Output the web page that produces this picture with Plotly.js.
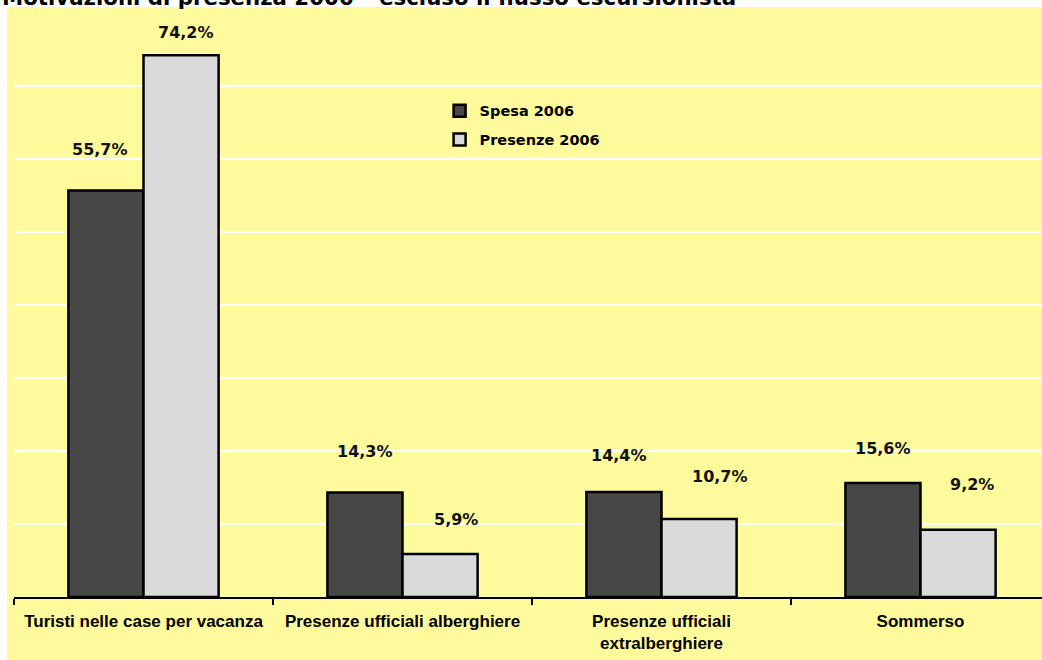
<!DOCTYPE html>
<html>
<head>
<meta charset="utf-8">
<script src="https://cdn.plot.ly/plotly-3.0.1.min.js"></script>
<style>
  html, body { margin: 0; padding: 0; background: #ffffff; overflow: hidden; }
  #chart { width: 1042px; height: 660px; }
</style>
</head>
<body>
<div id="chart"></div>
<script>
// ---- data ----
var categories = ['Turisti nelle case per vacanza', 'Presenze ufficiali alberghiere', 'Presenze ufficiali<br>extralberghiere', 'Sommerso'];
var spesa2006 = [55.7, 14.3, 14.4, 15.6];
var presenze2006 = [74.2, 5.9, 10.7, 9.2];
var seriesNames = ['Spesa 2006', 'Presenze 2006'];
var chartTitle = 'Motivazioni di presenza 2006 – escluso il flusso escursionista';

// ---- styles (label placement offsets, pixels) ----
var spesaLabelDx = [-6, 0, -5, 0];
var spesaLabelDy = [41, 41, 36, 35];
var presLabelDx = [5, 16, 21, 14];
var presLabelDy = [23, 34, 42, 45];

var bargap = 0.42;
var half = (1 - bargap) / 4; // centre offset of each bar within the group

function fmt(v) { return v.toFixed(1).replace('.', ',') + '%'; }

var labelFont = { family: 'DejaVu Sans', size: 16, color: '#111111', weight: 'bold' };

var plotW = 1042 - 14;
var plotH = 660 - 13 - 63;
var catPx = 259;

var annotations = [];
for (var i = 0; i < categories.length; i++) {
  annotations.push({
    x: i - half, y: spesa2006[i], xref: 'x', yref: 'y',
    text: fmt(spesa2006[i]), showarrow: false,
    xanchor: 'center', yanchor: 'middle',
    xshift: spesaLabelDx[i], yshift: spesaLabelDy[i], font: labelFont
  });
  annotations.push({
    x: i + half, y: presenze2006[i], xref: 'x', yref: 'y',
    text: fmt(presenze2006[i]), showarrow: false,
    xanchor: 'center', yanchor: 'middle',
    xshift: presLabelDx[i], yshift: presLabelDy[i], font: labelFont
  });
}
// title (partly cut at the top edge, as in the source)
annotations.push({
  text: chartTitle, showarrow: false,
  xref: 'paper', yref: 'paper',
  x: -14 / plotW, y: 1 + 13 / plotH,
  xanchor: 'left', yanchor: 'middle', yshift: 2.5,
  font: { family: 'DejaVu Sans', size: 21.3, color: '#000000', weight: 'bold' }
});

var traces = [
  {
    type: 'bar', name: seriesNames[0], x: categories, y: spesa2006,
    marker: { color: '#474747', line: { color: '#000000', width: 2.5 } },
    legendgroup: 'a', hoverinfo: 'none'
  },
  {
    type: 'bar', name: seriesNames[1], x: categories, y: presenze2006,
    marker: { color: '#DADADA', line: { color: '#000000', width: 2.5 } },
    legendgroup: 'b', hoverinfo: 'none'
  }
];

var layout = {
  width: 1042, height: 660,
  margin: { l: 14, r: 0, t: 13, b: 63, pad: 0 },
  paper_bgcolor: '#ffffff',
  plot_bgcolor: '#FFFA9B',
  barmode: 'group',
  bargap: bargap,
  bargroupgap: 0,
  xaxis: {
    type: 'category',
    range: [-0.5, -0.5 + plotW / catPx],
    showgrid: false,
    zeroline: false,
    showline: true, linecolor: '#000000', linewidth: 1.5,
    ticks: 'outside', tickson: 'boundaries',
    ticklen: 6, tickwidth: 1.5, tickcolor: '#000000',
    tickfont: { family: 'Liberation Sans', size: 17, color: '#000000', weight: 'bold' },
    ticklabelstandoff: 8,
    fixedrange: true
  },
  yaxis: {
    range: [0, 80], dtick: 10, tick0: 0,
    showticklabels: false, ticks: '',
    showgrid: true, gridcolor: '#ffffff', gridwidth: 1.8,
    zeroline: false, showline: false, fixedrange: true
  },
  showlegend: true,
  legend: {
    x: 0.414, y: 0.86, xanchor: 'left', yanchor: 'top',
    bgcolor: 'rgba(0,0,0,0)', borderwidth: 0,
    traceorder: 'grouped', tracegroupgap: 7,
    itemwidth: 30,
    font: { family: 'DejaVu Sans', size: 14.5, color: '#000000', weight: 'bold' }
  },
  shapes: [
    {
      type: 'rect', xref: 'paper', yref: 'paper', layer: 'below',
      x0: -7 / plotW, x1: 1.02, y0: -63 / plotH, y1: 1 + 6 / plotH,
      fillcolor: '#FFFA9B', line: { width: 0 }
    }
  ],
  annotations: annotations
};

Plotly.newPlot('chart', traces, layout, { displayModeBar: false, staticPlot: true });
</script>
</body>
</html>
